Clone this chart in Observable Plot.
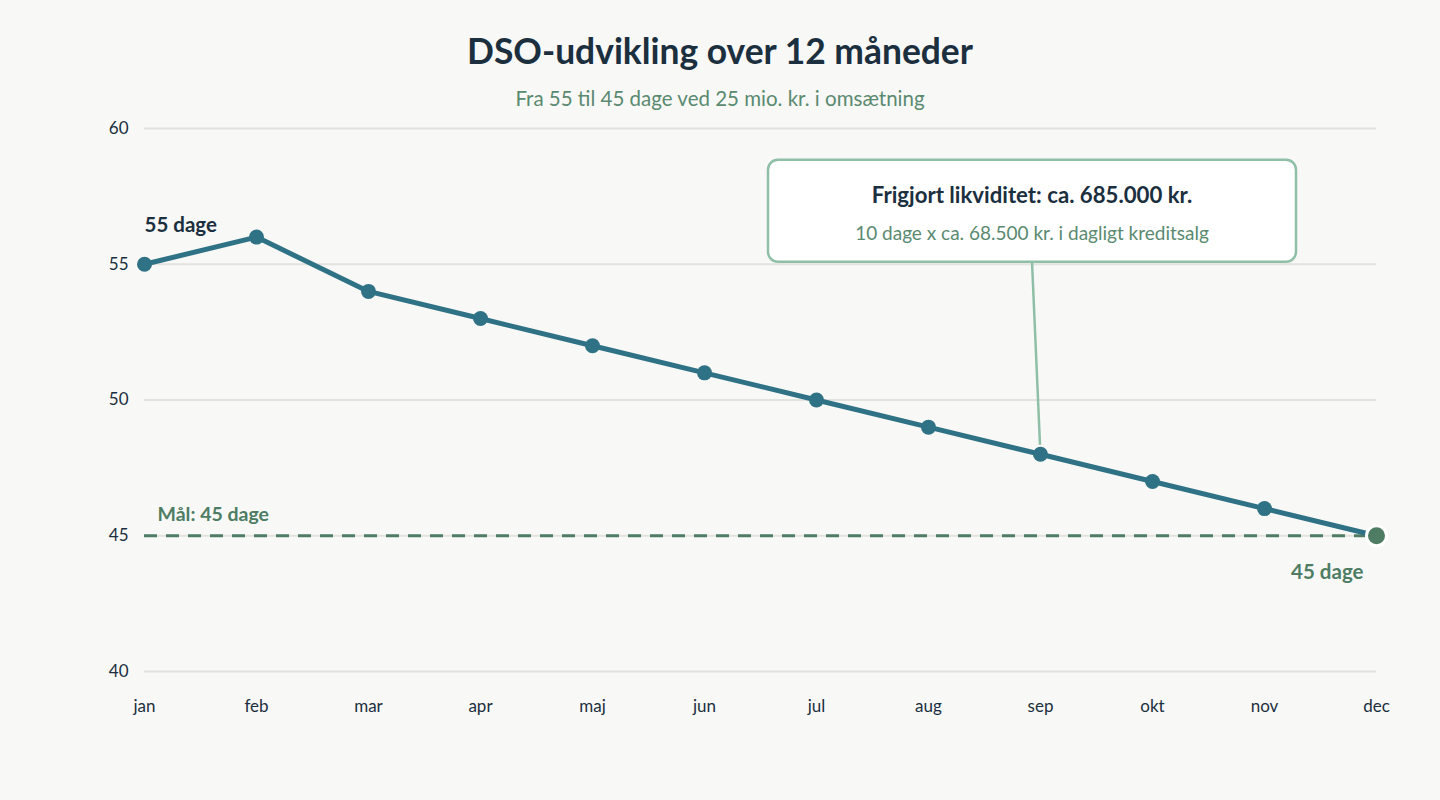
<!DOCTYPE html>
<html>
<head>
<meta charset="utf-8">
<script src="https://cdn.jsdelivr.net/npm/d3@7"></script>
<script src="https://cdn.jsdelivr.net/npm/@observablehq/plot@0.6"></script>
<style>
  body { margin: 0; background: #f8f8f6; font-family: Lato, "Noto Sans", sans-serif; }
  #page { width: 1440px; height: 800px; position: relative; }
  header { height: 110px; position: relative; }
  h1 { position: absolute; top: 33px; left: 0; width: 1440px; margin: 0; text-align: center;
       font-size: 35.4px; line-height: 1; font-weight: 700; color: #1b2f3e; }
  .sub { position: absolute; top: 88px; left: 0; width: 1440px; text-align: center;
         font-size: 20.5px; line-height: 1; color: #5a8a70; }
</style>
</head>
<body>
<div id="page">
  <header>
    <h1>DSO-udvikling over 12 måneder</h1>
    <div class="sub">Fra 55 til 45 dage ved 25 mio. kr. i omsætning</div>
  </header>
  <div id="chart"></div>
</div>
<script>
// Days sales outstanding per month
const months = ["jan", "feb", "mar", "apr", "maj", "jun", "jul", "aug", "sep", "okt", "nov", "dec"];
const dso = [55, 56, 54, 53, 52, 51, 50, 49, 48, 47, 46, 45];
const yTicks = [40, 45, 50, 55, 60];
const target = 45;

// Callout text, attached to the September point
const calloutMonth = "sep";
const calloutTitle = "Frigjort likviditet: ca. 685.000 kr.";
const calloutNote = "10 dage x ca. 68.500 kr. i dagligt kreditsalg";

const data = months.map((month, i) => ({month, dso: dso[i]}));
const first = data[0];
const last = data[data.length - 1];
const calloutPoint = data.find(d => d.month === calloutMonth);

const teal = "#2f7286";
const green = "#4e7d64";
const dark = "#1b2f3e";

// Rounded callout box with a connector down to its data point
function callout(index, scales) {
  const px = scales.x(calloutPoint.month);
  const py = scales.y(calloutPoint.dso);
  const w = 528, h = 102;
  const cx = px - 8, bottom = py - 192, top = bottom - h;
  const g = d3.create("svg:g");
  g.append("line")
    .attr("x1", cx).attr("y1", bottom)
    .attr("x2", px).attr("y2", py - 9)
    .attr("stroke", "#8fbfa6").attr("stroke-width", 2.5);
  g.append("rect")
    .attr("x", cx - w / 2).attr("y", top)
    .attr("width", w).attr("height", h)
    .attr("rx", 10).attr("ry", 10)
    .attr("fill", "white").attr("stroke", "#8fbfa6").attr("stroke-width", 2.5);
  g.append("text")
    .attr("x", cx).attr("y", top + 43)
    .attr("text-anchor", "middle")
    .attr("font-size", 22.2).attr("font-weight", 700).attr("fill", dark)
    .text(calloutTitle);
  g.append("text")
    .attr("x", cx).attr("y", top + 80)
    .attr("text-anchor", "middle")
    .attr("font-size", 19).attr("fill", "#5a8a70")
    .text(calloutNote);
  return g.node();
}

const chart = Plot.plot({
  width: 1440,
  height: 690,
  marginTop: 18,
  marginRight: 64,
  marginBottom: 129,
  marginLeft: 144,
  style: {background: "transparent", fontFamily: "Lato, 'Noto Sans', sans-serif", fontSize: "17px", color: dark},
  x: {type: "point", domain: months, padding: 0, label: null, tickSize: 0, tickPadding: 28},
  y: {domain: [40, 60], ticks: yTicks, label: null, tickSize: 0, tickPadding: 16},
  marks: [
    Plot.ruleY(yTicks, {stroke: "#e2e2df", strokeWidth: 2}),
    Plot.ruleY([target], {stroke: green, strokeWidth: 3, strokeDasharray: "13,9"}),
    Plot.text([target], {
      y: d => d, frameAnchor: "left", text: d => `Mål: ${d} dage`,
      dx: 13, dy: -21, textAnchor: "start", fontSize: 19.5, fontWeight: 700, fill: green
    }),
    Plot.line(data, {x: "month", y: "dso", stroke: teal, strokeWidth: 5}),
    Plot.dot(data.slice(0, -1), {x: "month", y: "dso", r: 7.5, fill: teal}),
    Plot.dot([last], {x: "month", y: "dso", r: 10, fill: green, stroke: "white", strokeWidth: 3}),
    Plot.text([first], {
      x: "month", y: "dso", text: d => `${d.dso} dage`,
      dy: -39, textAnchor: "start", fontSize: 20.5, fontWeight: 700, fill: dark
    }),
    Plot.text([last], {
      x: "month", y: "dso", text: d => `${d.dso} dage`,
      dx: -13, dy: 37, textAnchor: "end", fontSize: 20.5, fontWeight: 700, fill: green
    }),
    callout
  ]
});

document.getElementById("chart").appendChild(chart);
</script>
</body>
</html>
